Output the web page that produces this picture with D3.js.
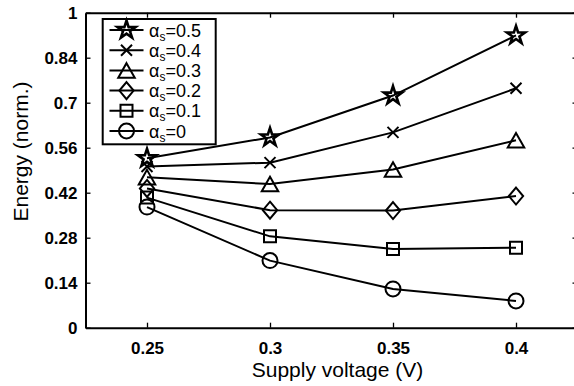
<!DOCTYPE html>
<html>
<head>
<meta charset="utf-8">
<script src="https://cdn.jsdelivr.net/npm/d3@7"></script>
<style>
  html, body { margin: 0; padding: 0; background: #fff; }
  svg { display: block; }
  text { font-family: "Liberation Sans", Arial, Helvetica, sans-serif; fill: #000; }
</style>
</head>
<body>
<svg id="chart" width="574" height="386"></svg>
<script>
// Supply voltage sweep (V)
const voltages = [0.25, 0.3, 0.35, 0.4];

// Normalized energy for each switching activity alpha_s
const alphaLabels = ["0.5", "0.4", "0.3", "0.2", "0.1", "0"];
const energyA05 = [0.538, 0.604, 0.737, 0.928];
const energyA04 = [0.512, 0.524, 0.620, 0.760];
const energyA03 = [0.478, 0.456, 0.502, 0.595];
const energyA02 = [0.442, 0.373, 0.372, 0.418];
const energyA01 = [0.413, 0.290, 0.250, 0.254];
const energyA00 = [0.383, 0.213, 0.123, 0.085];
const markerKinds = ["star", "cross", "triangle", "diamond", "square", "circle"];

// Axis ticks
const xTicks = [0.25, 0.3, 0.35, 0.4];
const xTickLabels = ["0.25", "0.3", "0.35", "0.4"];
const yTicks = [0, 1/7, 2/7, 3/7, 4/7, 5/7, 6/7, 1];
const yTickLabels = ["0", "0.14", "0.28", "0.42", "0.56", "0.7", "0.84", "1"];

const series = [energyA05, energyA04, energyA03, energyA02, energyA01, energyA00]
  .map((vals, i) => ({
    label: alphaLabels[i],
    kind: markerKinds[i],
    points: vals.map((v, j) => ({ x: voltages[j], y: v }))
  }));

const svg = d3.select("#chart");
const plotLeft = 85.5, plotRight = 577.5, plotTop = 12.7, plotBottom = 327.7;

const x = d3.scaleLinear().domain([0.225, 0.425]).range([plotLeft, plotRight]);
const y = d3.scaleLinear().domain([0, 1]).range([plotBottom, plotTop]);

// Marker shapes as custom d3 symbol types (size = nominal diameter)
function starType() {
  return { draw(ctx, s) {
    const R = s / 2, r = R * 0.38;
    for (let k = 0; k < 10; k++) {
      const a = -Math.PI / 2 + k * Math.PI / 5;
      const rad = k % 2 === 0 ? R : r;
      const px = rad * Math.cos(a), py = rad * Math.sin(a);
      if (k === 0) ctx.moveTo(px, py); else ctx.lineTo(px, py);
    }
    ctx.closePath();
  }};
}
const symbolTypes = {
  star: starType(),
  cross: { draw(ctx, s) { const h = s / 2; ctx.moveTo(-h, -h); ctx.lineTo(h, h); ctx.moveTo(h, -h); ctx.lineTo(-h, h); } },
  triangle: { draw(ctx, s) { const w = s / 2, h = s * 0.44; ctx.moveTo(0, -h); ctx.lineTo(w, h); ctx.lineTo(-w, h); ctx.closePath(); } },
  diamond: { draw(ctx, s) { const w = s * 0.42, h = s / 2; ctx.moveTo(0, -h); ctx.lineTo(w, 0); ctx.lineTo(0, h); ctx.lineTo(-w, 0); ctx.closePath(); } },
  square: { draw(ctx, s) { const h = s / 2; ctx.rect(-h, -h, s, s); } },
  circle: { draw(ctx, s) { const r = s / 2; ctx.moveTo(r, 0); ctx.arc(0, 0, r, 0, 2 * Math.PI); ctx.closePath(); } }
};
const symbolSizes = { star: 19, cross: 11, triangle: 16.5, diamond: 17, square: 12, circle: 15 };
const symbolStroke = { star: 2.6, cross: 2, triangle: 2, diamond: 2, square: 2, circle: 2 };
const symbolPath = kind => d3.symbol().type(symbolTypes[kind]).size(symbolSizes[kind])();

// Axes box with inward ticks on all four sides
const g = svg.append("g");
const tickLen = 5;
const axB = g.append("g").attr("transform", `translate(0,${plotBottom})`)
  .call(d3.axisBottom(x).tickValues(xTicks).tickSizeInner(-tickLen).tickSizeOuter(0)
    .tickFormat((d, i) => xTickLabels[i]));
const axT = g.append("g").attr("transform", `translate(0,${plotTop})`)
  .call(d3.axisTop(x).tickValues(xTicks).tickSizeInner(-tickLen).tickSizeOuter(0).tickFormat(""));
const axL = g.append("g").attr("transform", `translate(${plotLeft},0)`)
  .call(d3.axisLeft(y).tickValues(yTicks).tickSizeInner(-tickLen).tickSizeOuter(0)
    .tickFormat((d, i) => yTickLabels[i]));
const axR = g.append("g").attr("transform", `translate(${plotRight},0)`)
  .call(d3.axisRight(y).tickValues(yTicks).tickSizeInner(-tickLen).tickSizeOuter(0).tickFormat(""));

[axB, axT, axL, axR].forEach(a => {
  a.select(".domain").attr("stroke", "#000").attr("stroke-width", 2);
  a.selectAll(".tick line").attr("stroke", "#000").attr("stroke-width", 1.3);
});
axB.selectAll(".tick text")
  .attr("font-size", 17).attr("font-weight", "bold").attr("dy", null).attr("y", 26);
axL.selectAll(".tick text")
  .attr("font-size", 17).attr("font-weight", "bold").attr("x", -8).attr("dy", "0.36em");

// Axis titles
svg.append("text")
  .attr("x", 337.5).attr("y", 377)
  .attr("text-anchor", "middle").attr("font-size", 21)
  .text("Supply voltage (V)");
svg.append("text")
  .attr("transform", "translate(28,151.5) rotate(-90)")
  .attr("text-anchor", "middle").attr("font-size", 21)
  .text("Energy (norm.)");

// Series lines and markers
const line = d3.line().x(d => x(d.x)).y(d => y(d.y));
const sg = svg.append("g").selectAll("g").data(series).join("g");
sg.append("path")
  .attr("d", d => line(d.points))
  .attr("fill", "none").attr("stroke", "#000").attr("stroke-width", 2);
sg.selectAll("path.mk").data(d => d.points.map(p => ({ p, kind: d.kind }))).join("path")
  .attr("class", "mk")
  .attr("transform", d => `translate(${x(d.p.x)},${y(d.p.y)})`)
  .attr("d", d => symbolPath(d.kind))
  .attr("fill", "none").attr("stroke", "#000")
  .attr("stroke-width", d => symbolStroke[d.kind]);

// Legend
const lg = svg.append("g");
const lx = 102.7, ly = 19, lw = 113, lh = 125.3, rowH = 20.2;
lg.append("rect").attr("x", lx).attr("y", ly).attr("width", lw).attr("height", lh)
  .attr("fill", "#fff").attr("stroke", "#000").attr("stroke-width", 2);
const rows = lg.selectAll("g.row").data(series).join("g").attr("class", "row")
  .attr("transform", (d, i) => `translate(0,${ly + 11 + i * rowH})`);
rows.append("line").attr("x1", 109.5).attr("x2", 143.5).attr("y1", 0).attr("y2", 0)
  .attr("stroke", "#000").attr("stroke-width", 2);
rows.append("path").attr("transform", "translate(126.5,0)")
  .attr("d", d => symbolPath(d.kind))
  .attr("fill", "none").attr("stroke", "#000")
  .attr("stroke-width", d => symbolStroke[d.kind]);
const lt = rows.append("text").attr("x", 149).attr("y", 6.5).attr("font-size", 18);
lt.append("tspan").text("α");
lt.append("tspan").attr("font-size", 12).attr("dy", 4).text("s");
lt.append("tspan").attr("dy", -4).text(d => "=" + d.label);
</script>
</body>
</html>
